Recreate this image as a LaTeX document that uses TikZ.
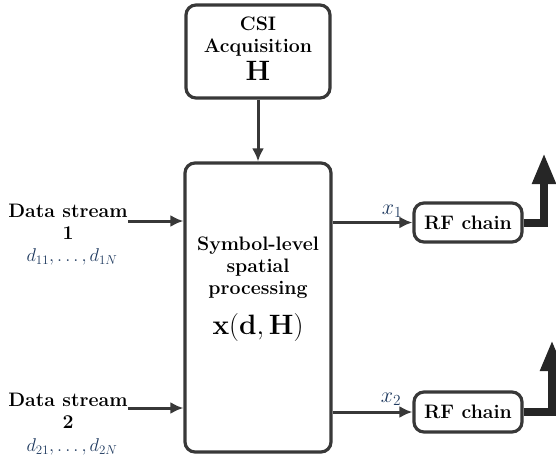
\RequirePackage{fix-cm}
\documentclass[tikz,border=0pt]{standalone}
\usetikzlibrary{arrows.meta}
\definecolor{linegray}{HTML}{383838}
\definecolor{mathblue}{HTML}{1F3A5F}
\begin{document}
\begin{tikzpicture}[x=1pt,y=-1pt,
  box/.style={draw=linegray,line width=3.2pt,rounded corners=10pt,fill=white,align=center,inner sep=0pt},
  conn/.style={draw=linegray,line width=3pt,-{Latex[length=13pt,width=12pt]}},
  bigarrow/.style={draw=black!85,line width=8pt,line join=miter,-{Triangle[length=31pt,width=22pt]}},
  lbl/.style={font=\fontsize{19.5}{21}\selectfont\bfseries,align=center,inner sep=0pt},
  mlbl/.style={font=\fontsize{18.5}{20}\selectfont,text=mathblue,inner sep=0pt}]
\useasboundingbox (0,0) rectangle (556,459);
\clip (0,0) rectangle (556,459);
% boxes
\node[box,minimum width=144pt,minimum height=93pt] (csi) at (258,51.5) {};
\node[lbl] (csitxt) at (258,37) {CSI\\[1pt]Acquisition};
\node[font=\fontsize{28}{30}\selectfont,inner sep=0pt] (csiH) at (258,71) {$\mathbf{H}$};
\node[box,minimum width=146pt,minimum height=289pt] (main) at (258,307.5) {};
\node[lbl] (maintxt) at (258,268) {Symbol-level\\[1pt]spatial\\[1pt]processing};
\node[font=\fontsize{28}{30}\selectfont,inner sep=0pt] (mainx) at (258,327) {$\mathbf{x}(\mathbf{d},\mathbf{H})$};
\node[box,minimum width=108pt,minimum height=39pt,font=\fontsize{19.5}{21}\selectfont\bfseries] (rf1) at (468,222.5) {RF chain};
\node[box,minimum width=108pt,minimum height=40pt,font=\fontsize{19.5}{21}\selectfont\bfseries] (rf2) at (468,412) {RF chain};
% data streams
\node[lbl] (ds1) at (68,222) {Data stream\\[1pt]1};
\node[mlbl] (d1) at (72,257) {$d_{11},\ldots,d_{1N}$};
\node[lbl] (ds2) at (68,411) {Data stream\\[1pt]2};
\node[mlbl] (d2) at (72,447) {$d_{21},\ldots,d_{2N}$};
% connectors
\draw[conn] (ds1.east |- 0,221) -- (main.west |- 0,221);
\draw[conn] (ds2.east |- 0,408) -- (main.west |- 0,408);
\draw[conn] (csi.south) -- (main.north);
\draw[conn] (main.east |- rf1.west) -- (rf1.west);
\draw[conn] (main.east |- rf2.west) -- (rf2.west);
\node[mlbl,font=\fontsize{22}{24}\selectfont] (x1) at (392,211) {$x_1$};
\node[mlbl,font=\fontsize{22}{24}\selectfont] (x2) at (391,399) {$x_2$};
% antenna arrows
\coordinate (c1) at (544,223);
\coordinate (t1) at (544,153);
\coordinate (c2) at (552,412);
\coordinate (t2) at (552,340);
\draw[bigarrow] (rf1.east |- c1) -- (c1) -- (t1);
\draw[bigarrow] (rf2.east |- c2) -- (c2) -- (t2);
\end{tikzpicture}
\end{document}
